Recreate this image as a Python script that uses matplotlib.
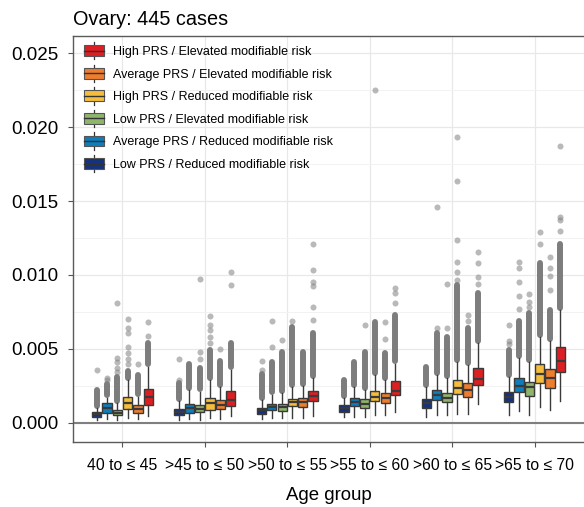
import numpy as np
import matplotlib
matplotlib.use("Agg")
import matplotlib.pyplot as plt
from matplotlib.patches import Patch, Rectangle
from matplotlib.lines import Line2D
from matplotlib.legend_handler import HandlerBase
from matplotlib.ticker import FormatStrFormatter

plt.rcParams['font.family'] = ['Liberation Sans', 'DejaVu Sans']

# Age groups on the x axis
age_groups = ["40 to \u2264 45", ">45 to \u2264 50", ">50 to \u2264 55",
              ">55 to \u2264 60", ">60 to \u2264 65", ">65 to \u2264 70"]

# Risk strata, in the order they sit inside each age group
strata = ["Low PRS / Reduced modifiable risk",
          "Average PRS / Reduced modifiable risk",
          "Low PRS / Elevated modifiable risk",
          "High PRS / Reduced modifiable risk",
          "Average PRS / Elevated modifiable risk",
          "High PRS / Elevated modifiable risk"]
colors = ["#15337c", "#0d7dbb", "#8fb56a", "#f4bd3b", "#ef7d2e", "#de1f22"]

# Box statistics (x 1e-3), one row per stratum, one column per age group
whislo = [[0.20, 0.20, 0.22, 0.38, 0.40, 0.54],
          [0.25, 0.25, 0.30, 0.38, 0.55, 0.81],
          [0.20, 0.20, 0.30, 0.38, 0.50, 0.54],
          [0.29, 0.29, 0.35, 0.54, 0.60, 1.06],
          [0.25, 0.25, 0.35, 0.54, 0.60, 0.88],
          [0.43, 0.47, 0.45, 0.70, 1.28, 1.44]]
q1 = [[0.38, 0.54, 0.61, 0.76, 1.03, 1.37],
      [0.67, 0.66, 0.83, 1.15, 1.55, 2.11],
      [0.53, 0.72, 0.79, 1.03, 1.37, 1.82],
      [0.90, 0.88, 1.10, 1.48, 1.95, 2.67],
      [0.68, 0.92, 1.06, 1.33, 1.73, 2.38],
      [1.17, 1.15, 1.44, 1.89, 2.56, 3.46]]
med = [[0.56, 0.76, 0.83, 0.99, 1.33, 1.73],
       [0.99, 0.97, 1.06, 1.40, 1.89, 2.50],
       [0.69, 0.94, 1.06, 1.28, 1.70, 2.40],
       [1.32, 1.33, 1.37, 1.77, 2.34, 3.28],
       [0.95, 1.21, 1.40, 1.66, 2.22, 3.00],
       [1.72, 1.55, 1.80, 2.18, 2.94, 4.20]]
q3 = [[0.72, 0.94, 1.03, 1.21, 1.62, 2.11],
      [1.32, 1.27, 1.28, 1.66, 2.22, 3.05],
      [0.86, 1.17, 1.28, 1.60, 2.04, 2.78],
      [1.75, 1.70, 1.64, 2.18, 2.90, 4.00],
      [1.17, 1.55, 1.70, 2.00, 2.67, 3.62],
      [2.27, 2.16, 2.16, 2.83, 3.70, 5.14]]
whishi = [[1.00, 1.44, 1.55, 1.66, 2.40, 3.10],
          [1.70, 2.20, 1.90, 2.40, 3.20, 4.40],
          [1.35, 2.10, 2.00, 2.20, 3.00, 4.10],
          [2.90, 2.90, 2.40, 3.20, 4.10, 5.80],
          [1.77, 2.40, 2.50, 2.90, 3.90, 5.50],
          [3.80, 3.60, 3.00, 4.00, 5.40, 7.60]]
# Upper end of the packed run of outliers above each whisker
dense_top = [[2.2, 2.7, 3.3, 2.9, 3.8, 4.9],
             [2.6, 4.0, 4.1, 4.1, 6.1, 6.9],
             [3.1, 3.7, 4.8, 4.8, 5.8, 7.4],
             [3.5, 4.9, 6.5, 6.8, 9.3, 10.8],
             [3.2, 4.2, 4.8, 4.7, 6.4, 7.6],
             [5.4, 5.4, 6.05, 7.3, 8.8, 12.1]]
# Isolated outliers above the packed run
sparse = [[[3.6], [2.9, 4.3], [3.6, 4.2], [], [], [5.3, 5.5, 6.6]],
          [[2.9, 3.0], [], [5.1, 6.9], [], [6.4, 14.6], [7.7, 8.6, 9.5, 10.5, 10.9]],
          [[3.4, 3.7, 4.1, 4.4, 8.1], [4.3, 4.8, 9.75], [5.6], [6.6], [6.4, 9.4], [7.8, 8.2, 8.7]],
          [[4.0, 4.3, 4.7, 5.1, 6.1, 6.4, 7.0], [5.4, 5.8, 6.3, 6.6, 7.2], [6.9], [22.5],
           [9.66, 10.2, 10.85, 12.36, 16.38, 19.36], [12.1, 12.9]],
          [[4.0], [5.0], [], [5.7, 6.8], [6.9, 7.3], [9.0, 9.9, 10.5, 11.2]],
          [[5.9, 6.8], [9.3, 10.2], [6.95, 7.8, 9.27, 9.5, 10.33, 12.07], [8.1, 8.8, 9.1],
           [9.37, 9.88, 10.79, 11.57], [13.0, 13.7, 13.9, 18.7]]]
SCALE = 1e-3


class BoxKey(HandlerBase):
    """Legend key drawn as a small box with a median and whisker line."""
    def create_artists(self, legend, orig_handle, xdescent, ydescent,
                       width, height, fontsize, trans):
        x0, y0 = -xdescent, -ydescent
        xm = x0 + width / 2
        whisk = Line2D([xm, xm], [y0 - 0.3 * height, y0 + 1.3 * height],
                       color="#333333", lw=0.9, transform=trans)
        box = Rectangle((x0, y0), width, height,
                        facecolor=orig_handle.get_facecolor(),
                        edgecolor="#555555", lw=0.8, transform=trans)
        mid = Line2D([x0, x0 + width], [y0 + height / 2] * 2,
                     color="#333333", lw=1.0, transform=trans)
        return [whisk, box, mid]


fig = plt.figure(figsize=(5.84, 5.07), dpi=100)
ax = fig.add_axes([0.125, 0.128, 0.875, 0.801])

centers = np.arange(1, len(age_groups) + 1)
offsets = (np.arange(len(strata)) - 2.5) * 0.125
edge = "#3a3a3a"

for k, (name, col) in enumerate(zip(strata, colors)):
    pos = centers + offsets[k]
    # outliers first so the boxes sit on top
    lo = np.array(whishi[k]) * SCALE + 0.00015
    hi = np.array(dense_top[k]) * SCALE
    ax.vlines(pos, lo, hi, colors="#7d7d7d", linewidth=4.3,
              capstyle="round", zorder=2)
    for g in range(len(age_groups)):
        if sparse[k][g]:
            vals = np.array(sparse[k][g]) * SCALE
            ax.scatter(np.full(len(vals), pos[g]), vals, s=19, color="#808080",
                       alpha=0.55, linewidths=0, zorder=2)
    stats = [dict(whislo=whislo[k][g] * SCALE, q1=q1[k][g] * SCALE,
                  med=med[k][g] * SCALE, q3=q3[k][g] * SCALE,
                  whishi=whishi[k][g] * SCALE, fliers=[])
             for g in range(len(age_groups))]
    ax.bxp(stats, positions=pos, widths=0.112, showfliers=False,
           showcaps=False, patch_artist=True, manage_ticks=False, zorder=3,
           boxprops=dict(facecolor=col, edgecolor=edge, linewidth=1.0),
           medianprops=dict(color=edge, linewidth=1.6),
           whiskerprops=dict(color=edge, linewidth=1.0))

ax.axhline(0, color="#7f7f7f", lw=1.5, zorder=1.5)

ax.set_xlim(0.4, 6.6)
ax.set_ylim(-0.00131, 0.02617)
ax.set_xticks(centers)
ax.set_xticklabels(age_groups, fontsize=11.3)
ax.set_yticks(np.arange(0, 0.0251, 0.005))
ax.set_yticks(np.arange(0.0025, 0.026, 0.005), minor=True)
ax.yaxis.set_major_formatter(FormatStrFormatter("%.3f"))
ax.tick_params(axis="y", labelsize=13.5, length=3.5, width=0.8,
               color="#555555", pad=7)
ax.tick_params(axis="x", length=3.5, width=0.8, color="#555555", pad=8)
ax.tick_params(which="minor", length=0)

ax.grid(True, which="major", color="#e8e8e8", lw=0.9)
ax.grid(True, which="minor", axis="y", color="#f2f2f2", lw=0.7)
ax.set_axisbelow(True)

for side in ["left", "top", "bottom"]:
    ax.spines[side].set_color("#5a5a5a")
    ax.spines[side].set_linewidth(1.0)
ax.spines["right"].set_visible(False)

ax.set_title("Ovary: 445 cases", loc="left", fontsize=14.3, pad=8)
ax.set_xlabel("Age group", fontsize=13.4, labelpad=10)

handles = [Patch(facecolor=c) for c in colors[::-1]]
ax.legend(handles, strata[::-1], handler_map={Patch: BoxKey()},
          loc="upper left", bbox_to_anchor=(0.004, 1.0), frameon=False,
          fontsize=9, handlelength=1.6, handleheight=0.95, handletextpad=0.7,
          labelspacing=0.79, borderaxespad=0.35)

fig.savefig("out.png", dpi=100)
